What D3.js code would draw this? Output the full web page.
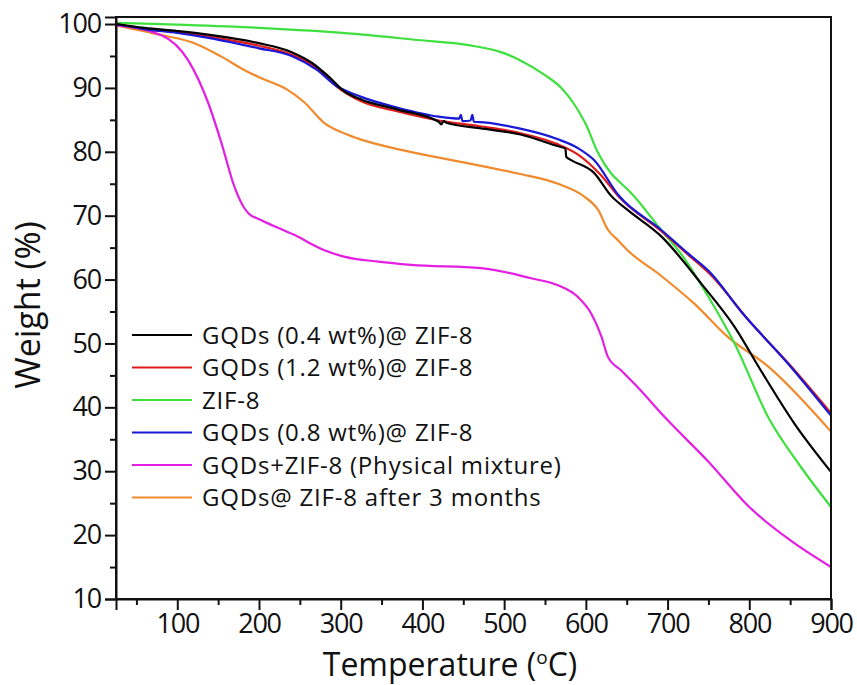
<!DOCTYPE html>
<html>
<head>
<meta charset="utf-8">
<script src="https://cdn.jsdelivr.net/npm/d3@7"></script>
<style>
  html, body { margin: 0; padding: 0; background: #fff; }
  svg { display: block; font-family: "Open Sans", "Noto Sans", sans-serif; }
</style>
</head>
<body>
<svg id="chart" width="857" height="685"></svg>
<script>
// TGA curves: temperature (°C) and remaining weight (%) for each sample
const blackT = [25, 60, 100, 140, 200, 240, 265, 285, 305, 325, 370, 420, 423, 426, 430, 470, 520, 565, 575, 576, 582, 610, 631, 651, 692, 741, 782, 814, 855, 900];
const blackW = [100, 99.4, 98.9, 98.3, 97.0, 95.6, 93.9, 91.8, 89.4, 88.2, 86.6, 84.7, 84.3, 84.8, 84.5, 83.7, 82.7, 80.9, 80.5, 79.2, 78.7, 76.7, 73.1, 70.9, 66.8, 59.4, 52.6, 45.8, 37.5, 29.9];

const redT = [25, 60, 100, 140, 200, 240, 270, 295, 325, 370, 420, 470, 517, 565, 590, 618, 640, 692, 725, 753, 800, 850, 900];
const redW = [100, 99.2, 98.7, 98.0, 96.6, 95.2, 93.2, 90.2, 87.9, 86.3, 84.9, 84.0, 83.0, 81.2, 79.6, 76.4, 73.0, 67.6, 63.9, 60.7, 53.5, 46.6, 39.1];

const greenT = [25, 100, 200, 313, 394, 456, 496, 520, 550, 570, 585, 600, 615, 631, 642, 655, 692, 720, 749, 782, 823, 863, 900];
const greenW = [100.2, 99.9, 99.4, 98.5, 97.5, 96.7, 95.6, 94.3, 92.0, 90.0, 87.6, 84.3, 79.8, 76.6, 75.2, 73.6, 67.8, 63.4, 57.5, 50.0, 38.5, 30.7, 24.4];

const blueT = [25, 60, 100, 140, 200, 240, 270, 295, 325, 370, 420, 445, 447, 449, 459, 461, 463, 475, 517, 565, 590, 610, 640, 692, 725, 753, 790, 847, 900];
const blueW = [100, 99.2, 98.6, 97.8, 96.2, 95.0, 92.9, 90.3, 88.6, 86.9, 85.5, 85.2, 85.8, 84.8, 84.9, 85.8, 84.7, 84.6, 83.7, 82.0, 80.6, 78.7, 73.2, 67.8, 64.1, 61.0, 55.0, 46.9, 38.7];

const magentaT = [25, 80, 113, 138, 154, 170, 182, 187, 203, 243, 280, 304, 346, 386, 472, 533, 566, 590, 606, 619, 627, 643, 660, 700, 750, 800, 850, 900];
const magentaW = [99.8, 98.3, 94.4, 87.6, 81.4, 74.5, 71.2, 70.4, 69.3, 67.0, 64.6, 63.6, 62.8, 62.3, 61.8, 60.2, 59.1, 57.3, 54.8, 51.1, 47.9, 45.8, 43.6, 38.0, 31.5, 24.4, 19.2, 15.0];

const orangeT = [25, 80, 121, 154, 182, 203, 235, 255, 280, 304, 325, 374, 456, 517, 566, 598, 615, 627, 639, 651, 692, 733, 774, 823, 900];
const orangeW = [99.8, 98.3, 97.0, 94.9, 92.8, 91.5, 89.7, 87.8, 84.5, 82.9, 81.9, 80.3, 78.2, 76.6, 75.0, 73.0, 70.9, 67.8, 66.2, 64.6, 60.6, 56.2, 51.0, 46.4, 36.2];

const seriesNames = [
  "GQDs (0.4 wt%)@ ZIF-8",
  "GQDs (1.2 wt%)@ ZIF-8",
  "ZIF-8",
  "GQDs (0.8 wt%)@ ZIF-8",
  "GQDs+ZIF-8 (Physical mixture)",
  "GQDs@ ZIF-8 after 3 months"
];
const seriesColors = ["#000000", "#e01b1b", "#3ee03e", "#1818d6", "#e41ee4", "#f08a2c"];
const seriesT = [blackT, redT, greenT, blueT, magentaT, orangeT];
const seriesW = [blackW, redW, greenW, blueW, magentaW, orangeW];

const xTicks = [100, 200, 300, 400, 500, 600, 700, 800, 900];
const xMinor = [50, 150, 250, 350, 450, 550, 650, 750, 850];
const yTicks = [10, 20, 30, 40, 50, 60, 70, 80, 90, 100];
const yMinor = [15, 25, 35, 45, 55, 65, 75, 85, 95];

const svg = d3.select("#chart");
const plotL = 116, plotR = 831, plotT = 17, plotB = 599;

const x = d3.scaleLinear().domain([25, 900]).range([plotL, plotR]);
const y = d3.scaleLinear().domain([10, 101.1]).range([plotB, plotT]);

// curves (drawn so that black ends up on top)
const line = d3.line().x(d => x(d[0])).y(d => y(d[1])).curve(d3.curveMonotoneX);
const order = [5, 4, 2, 1, 3, 0];
svg.append("g").selectAll("path")
  .data(order)
  .join("path")
  .attr("d", i => line(seriesT[i].map((t, k) => [t, seriesW[i][k]])))
  .attr("fill", "none")
  .attr("stroke", i => seriesColors[i])
  .attr("stroke-width", 2.2)
  .attr("stroke-linejoin", "round");

// frame
svg.append("rect")
  .attr("x", plotL).attr("y", plotT)
  .attr("width", plotR - plotL).attr("height", plotB - plotT)
  .attr("fill", "none").attr("stroke", "#111").attr("stroke-width", 2);

// axes
svg.append("g").attr("transform", `translate(0,${plotB})`)
  .call(d3.axisBottom(x).tickValues(xTicks).tickSize(11).tickPadding(4));
svg.append("g").attr("transform", `translate(0,${plotB})`)
  .call(d3.axisBottom(x).tickValues(xMinor).tickSize(6).tickFormat(""))
  .call(g => g.select(".domain").remove());
svg.append("g").attr("transform", `translate(${plotL},0)`)
  .call(d3.axisLeft(y).tickValues(yTicks).tickSize(11).tickPadding(4));
svg.append("g").attr("transform", `translate(${plotL},0)`)
  .call(d3.axisLeft(y).tickValues(yMinor).tickSize(6).tickFormat(""))
  .call(g => g.select(".domain").remove());

svg.selectAll(".domain").attr("stroke", "#111").attr("stroke-width", 2);
svg.selectAll(".tick line").attr("stroke", "#111").attr("stroke-width", 2);
svg.selectAll(".tick text")
  .attr("fill", "#111")
  .attr("font-family", "'Open Sans', sans-serif")
  .attr("font-size", 27)
  .attr("letter-spacing", -1.2);

// axis titles
svg.append("text")
  .attr("transform", "translate(40,305) rotate(-90)")
  .attr("text-anchor", "middle")
  .attr("font-size", 34)
  .attr("fill", "#111")
  .text("Weight (%)");

const xt = svg.append("text")
  .attr("x", 450).attr("y", 676)
  .attr("text-anchor", "middle")
  .attr("font-size", 32)
  .attr("fill", "#111");
xt.append("tspan").text("Temperature (");
xt.append("tspan").attr("font-size", 19).attr("dy", -12).text("o");
xt.append("tspan").attr("dy", 12).text("C)");

// legend
const legend = svg.append("g");
const rowY = d3.range(6).map(i => 335 + i * 32.5);
seriesNames.forEach((name, i) => {
  legend.append("line")
    .attr("x1", 132).attr("x2", 192)
    .attr("y1", rowY[i]).attr("y2", rowY[i])
    .attr("stroke", seriesColors[i]).attr("stroke-width", 2);
  legend.append("text")
    .attr("x", 202).attr("y", rowY[i] + 8.5)
    .attr("font-size", 24)
    .attr("letter-spacing", 0.8)
    .attr("fill", "#111")
    .text(name);
});
</script>
</body>
</html>
